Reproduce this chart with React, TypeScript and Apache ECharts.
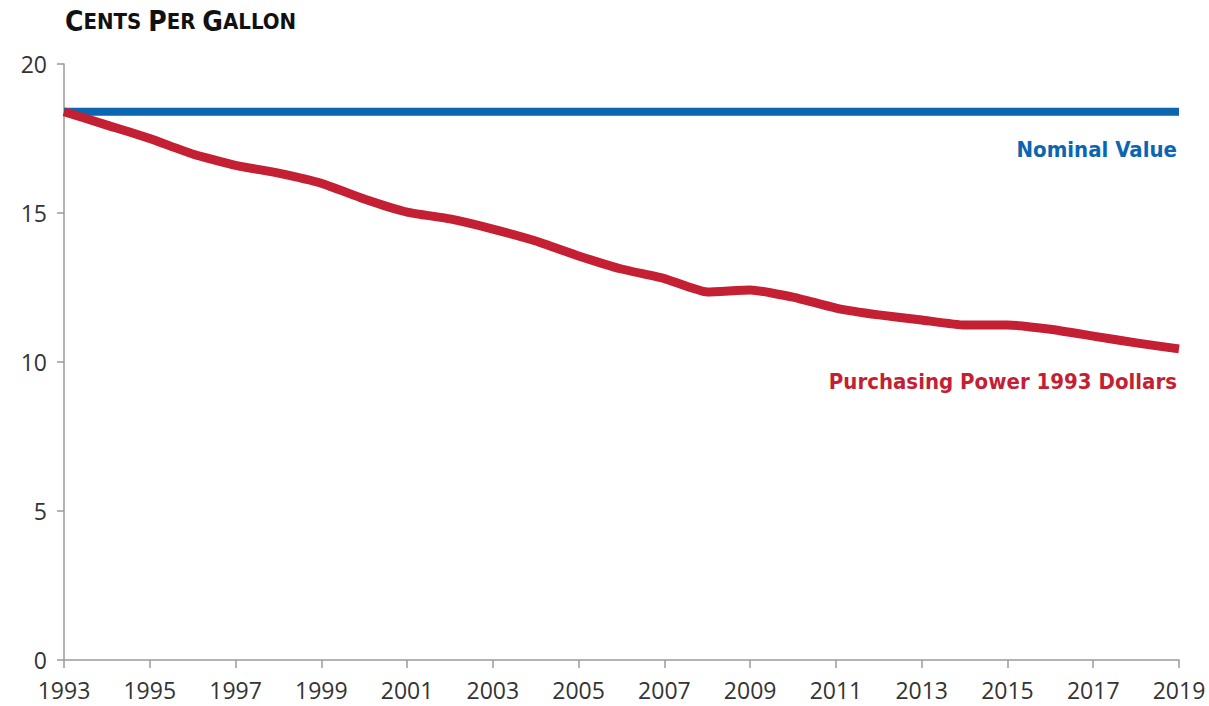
import React, { useEffect, useRef } from "react";
import * as echarts from "echarts";

const years: string[] = [
  "1993","1994","1995","1996","1997","1998","1999","2000","2001","2002","2003","2004","2005",
  "2006","2007","2008","2009","2010","2011","2012","2013","2014","2015","2016","2017","2018","2019",
];
const nominalValue: number[] = years.map(() => 18.4);
const purchasingPower: number[] = [
  18.4, 17.95, 17.5, 16.98, 16.6, 16.34, 16.0, 15.47, 15.03, 14.8, 14.46, 14.06, 13.56,
  13.12, 12.8, 12.35, 12.42, 12.18, 11.81, 11.58, 11.41, 11.24, 11.24, 11.1, 10.87, 10.64, 10.44,
];
const yTicks = { min: 0, max: 20, interval: 5 };
const titleParts = [["C", "ENTS"], ["P", "ER"], ["G", "ALLON"]];
const nominalLabel = "Nominal Value";
const ppLabel = "Purchasing Power 1993 Dollars";

const BLUE = "#0a66b0";
const RED = "#c41f33";
const AXIS = "#9a9a9a";
const TEXT = "#333333";
const LABEL_FONT = "'Liberation Sans Narrow', 'DejaVu Sans Condensed', 'Noto Sans', sans-serif";
const TICK_FONT = "'Open Sans', 'Liberation Sans', sans-serif";

export default function App() {
  const ref = useRef<HTMLDivElement>(null);
  useEffect(() => {
    if (!ref.current) return;
    const chart = echarts.init(ref.current, undefined, { renderer: "svg" });
    const titleText = titleParts.map(([a, b]) => `{a|${a}}{b|${b}}`).join("{b| }");
    chart.setOption({
      animation: false,
      backgroundColor: "#ffffff",
      grid: { left: 64, right: 30, top: 64, bottom: 46, containLabel: false },
      title: {
        text: titleText,
        left: 60,
        top: 2,
        textStyle: {
          rich: {
            a: { fontFamily: LABEL_FONT, fontWeight: "bold", fontSize: 28, color: "#111" },
            b: { fontFamily: LABEL_FONT, fontWeight: "bold", fontSize: 22, color: "#111" },
          },
        },
      },
      xAxis: {
        type: "category",
        data: years,
        boundaryGap: false,
        axisLine: { show: true, lineStyle: { color: AXIS, width: 1.5 } },
        axisTick: { show: true, interval: 1, length: 8, lineStyle: { color: AXIS, width: 1.5 } },
        axisLabel: { interval: 1, margin: 18, fontSize: 23, lineHeight: 24, color: TEXT, fontFamily: TICK_FONT },
        splitLine: { show: false },
      },
      yAxis: {
        type: "value",
        min: yTicks.min,
        max: yTicks.max,
        interval: yTicks.interval,
        axisLine: { show: true, lineStyle: { color: AXIS, width: 1.5 } },
        axisTick: { show: true, length: 7, lineStyle: { color: AXIS, width: 1.5 } },
        axisLabel: { margin: 17, fontSize: 23, lineHeight: 22, color: TEXT, fontFamily: TICK_FONT },
        splitLine: { show: false },
      },
      series: [
        {
          name: nominalLabel,
          type: "line",
          data: nominalValue,
          showSymbol: false,
          symbol: "none",
          lineStyle: { color: BLUE, width: 8, cap: "butt" },
          z: 2,
        },
        {
          name: ppLabel,
          type: "line",
          data: purchasingPower,
          showSymbol: false,
          symbol: "none",
          smooth: 0.15,
          lineStyle: { color: RED, width: 9, cap: "butt", join: "round" },
          z: 3,
        },
      ],
      graphic: [
        {
          type: "text",
          right: 32,
          top: 138,
          style: { text: nominalLabel, fill: BLUE, font: `bold 22px ${LABEL_FONT}` },
        },
        {
          type: "text",
          right: 32,
          top: 370,
          style: { text: ppLabel, fill: RED, font: `bold 22px ${LABEL_FONT}` },
        },
      ],
    });
    return () => chart.dispose();
  }, []);
  return (
    <div
      ref={ref}
      style={{ position: "fixed", left: 0, top: 0, width: 1209, height: 706, background: "#fff" }}
    />
  );
}
